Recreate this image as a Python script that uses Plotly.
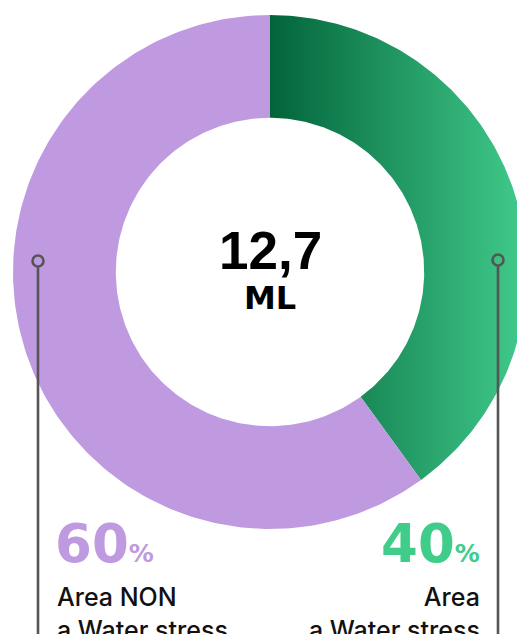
import numpy as np
import plotly.graph_objects as go

# ---------------- data ----------------
categories = ["Area a Water stress", "Area NON a Water stress"]   # clockwise from 12 o'clock
label_lines = [["Area", "a Water stress"], ["Area NON", "a Water stress"]]
shares = [40, 60]
total_value = "12,7"
total_unit = "ML"

# ---------------- style ----------------
W, H = 517, 634
CX, CY, R = 270, 272, 257          # donut centre and outer radius in pixels
HOLE = 0.6
PURPLE = "#c09ae0"
GREEN_LABEL = "#40cd8a"
GREEN_SCALE = [[0, "#02643a"], [1, "#41cb8c"]]
GRAY = "#555555"
TEXT = "#111111"

fig = go.Figure()

# donut slices as filled sectors (angle measured clockwise from top)
total = sum(shares)
start = 0.0
for i, (cat, v) in enumerate(zip(categories, shares)):
    a0 = start
    a1 = start + 2 * np.pi * v / total
    start = a1
    t = np.linspace(a0, a1, 200)
    xo, yo = np.sin(t), np.cos(t)
    xs = np.concatenate([xo, HOLE * xo[::-1], [xo[0]]])
    ys = np.concatenate([yo, HOLE * yo[::-1], [yo[0]]])
    kw = dict(x=xs, y=ys, mode="lines", fill="toself", line=dict(width=0),
              name=cat, hoverinfo="skip", showlegend=False)
    if i == 0:
        kw["fillgradient"] = dict(type="horizontal", colorscale=GREEN_SCALE)
    else:
        kw["fillcolor"] = PURPLE
    fig.add_trace(go.Scatter(**kw))

# leader lines with open circles
def px2x(px):
    return (px - CX) / R

def py2y(py):
    return (CY - py) / R

ybot = py2y(H + 20)
for mx, my in [(498, 260), (38, 261)]:
    fig.add_trace(go.Scatter(x=[px2x(mx), px2x(mx)], y=[py2y(my + 6), ybot], mode="lines",
                             line=dict(color=GRAY, width=2.6), hoverinfo="skip", showlegend=False))
    fig.add_trace(go.Scatter(x=[px2x(mx)], y=[py2y(my)], mode="markers",
                             marker=dict(symbol="circle-open", size=11, color=GRAY,
                                         line=dict(width=2.6, color=GRAY)),
                             hoverinfo="skip", showlegend=False))

annotations = []
# centre text
annotations.append(dict(x=CX / W, y=1 - 250.5 / H, xref="paper", yref="paper",
                        text=f"<b>{total_value}</b>", showarrow=False, xanchor="center", yanchor="middle",
                        font=dict(family="Liberation Sans", size=53, color="#000")))
annotations.append(dict(x=CX / W, y=1 - 298 / H, xref="paper", yref="paper",
                        text=f"<b>{total_unit}</b>", showarrow=False, xanchor="center", yanchor="middle",
                        font=dict(family="DejaVu Sans", size=32, color="#000")))

# bottom labels
label_pos = {0: (482, "right", GREEN_LABEL), 1: (53, "left", PURPLE)}
for i, v in enumerate(shares):
    px, anchor, col = label_pos[i]
    annotations.append(dict(x=px / W, y=1 - 543 / H, xref="paper", yref="paper",
                            text=f"<b>{v}<span style='font-size:25px'>%</span></b>",
                            showarrow=False, xanchor=anchor, yanchor="middle",
                            font=dict(family="DejaVu Sans", size=53, color=col)))
    annotations.append(dict(x=(px + (2 if anchor == "left" else 0)) / W, y=1 - 580 / H,
                            xref="paper", yref="paper",
                            text="<br>".join(label_lines[i]), align=anchor,
                            showarrow=False, xanchor=anchor, yanchor="top",
                            font=dict(family="Inter", size=25, color=TEXT, weight=500)))

fig.update_layout(
    width=W, height=H,
    margin=dict(l=0, r=0, t=0, b=0),
    paper_bgcolor="white", plot_bgcolor="white",
    xaxis=dict(range=[px2x(0), px2x(W)], visible=False, fixedrange=True),
    yaxis=dict(range=[py2y(H), py2y(0)], visible=False, fixedrange=True),
    annotations=annotations,
    showlegend=False,
)

fig.write_html("out.html", config={"displayModeBar": False},
               post_script="document.body.style.margin='0';document.body.style.overflow='hidden';")
